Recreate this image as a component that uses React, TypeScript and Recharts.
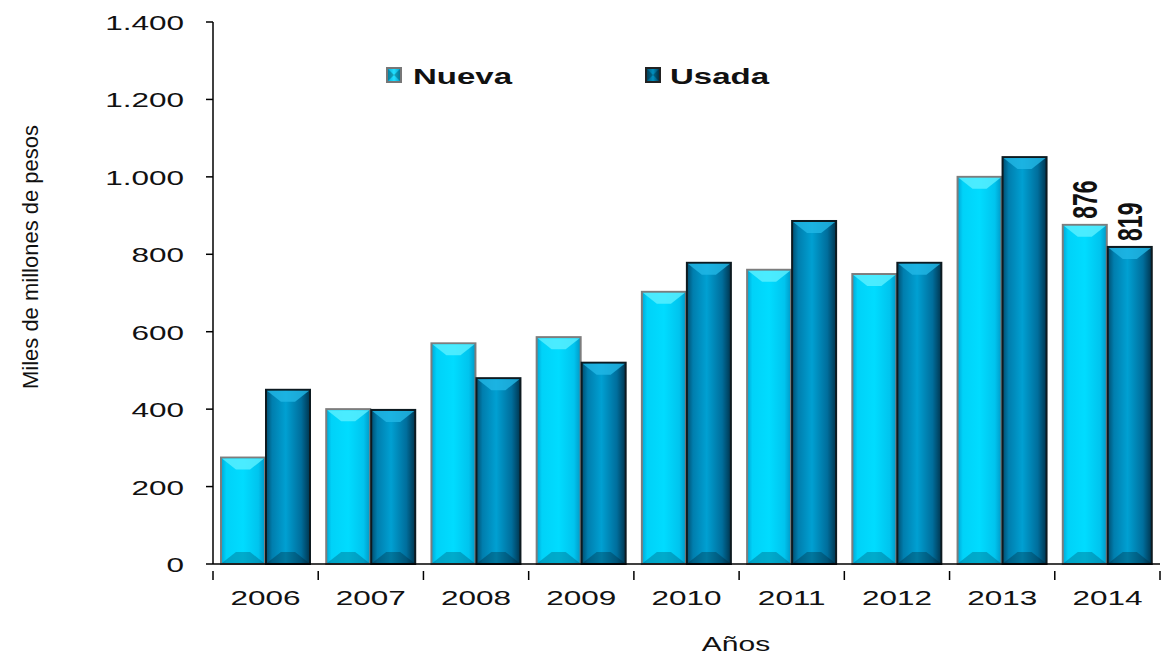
import React from "react";
import { BarChart, Bar, XAxis, YAxis, LabelList } from "recharts";

const years = ["2006", "2007", "2008", "2009", "2010", "2011", "2012", "2013", "2014"];
const nueva = [275, 400, 570, 586, 703, 760, 749, 1000, 876];
const usada = [450, 398, 480, 520, 778, 886, 778, 1051, 819];
const yTicks = [0, 200, 400, 600, 800, 1000, 1200, 1400];

const data = years.map((year, i) => ({ year, nueva: nueva[i], usada: usada[i] }));

const FONT = "'Liberation Sans', Arial, sans-serif";
const STRETCH = 1.5;

const fmt = (v: number) => v.toString().replace(/\B(?=(\d{3})+(?!\d))/g, ".");

// bar with a horizontal gradient and bevelled top / bottom caps
const BevelBar = (props: any) => {
  const { x, y, width, height, gradient, stroke, cap, base } = props;
  if (!height || height <= 0) return null;
  const b = Math.min(12, height / 2);
  return (
    <g>
      <rect x={x} y={y} width={width} height={height} fill={`url(#${gradient})`} stroke={stroke} strokeWidth={2} />
      <polygon
        points={`${x + 1},${y + 1} ${x + width - 1},${y + 1} ${x + width * 0.66},${y + b} ${x + width * 0.34},${y + b}`}
        fill={cap}
        opacity={0.8}
      />
      <polygon
        points={`${x + 1},${y + height - 1} ${x + width - 1},${y + height - 1} ${x + width * 0.66},${y + height - b} ${x + width * 0.34},${y + height - b}`}
        fill={base}
        opacity={0.3}
      />
    </g>
  );
};

const YTick = (props: any) => {
  const { x, y, payload } = props;
  return (
    <text
      transform={`translate(${x - 20},${y + 8}) scale(${STRETCH},1)`}
      textAnchor="end"
      fontFamily={FONT}
      fontSize={21}
      fill="#111"
    >
      {fmt(payload.value)}
    </text>
  );
};

const XTick = (props: any) => {
  const { x, y, payload, index, visibleTicksCount } = props;
  const half = payload.offset || 52.7;
  return (
    <g>
      <line x1={x - half} y1={y - 1} x2={x - half} y2={y + 8} stroke="#000" strokeWidth={1.5} />
      {index === visibleTicksCount - 1 && (
        <line x1={x + half} y1={y - 1} x2={x + half} y2={y + 8} stroke="#000" strokeWidth={1.5} />
      )}
      <text
        transform={`translate(${x},${y + 33}) scale(${STRETCH},1)`}
        textAnchor="middle"
        fontFamily={FONT}
        fontSize={21}
        fill="#111"
      >
        {payload.value}
      </text>
    </g>
  );
};

const ValueLabel = (props: any) => {
  const { x, y, width, value, index } = props;
  if (index !== years.length - 1) return null;
  return (
    <text
      transform={`translate(${x + width / 2},${y}) scale(${STRETCH},1) rotate(-90)`}
      x={6}
      y={8}
      textAnchor="start"
      fontFamily={FONT}
      fontWeight="bold"
      fontSize={23}
      fill="#111"
    >
      {value}
    </text>
  );
};

const LegendIcon = ({ x, grad, stroke }: { x: number; grad: string; stroke: string }) => (
  <g>
    <rect x={x} y={8} width={14} height={14} fill={`url(#${grad})`} stroke={stroke} strokeWidth={2} />
    <polygon points={`${x + 1},9 ${x + 7},15 ${x + 1},21`} fill="#000" opacity={0.25} />
    <polygon points={`${x + 13},9 ${x + 7},15 ${x + 13},21`} fill="#000" opacity={0.25} />
  </g>
);

// legend drawn as its own small svg over the plot
const LegendBox = () => (
  <svg width={420} height={34} style={{ position: "absolute", left: 380, top: 60 }}>
    <defs>
      <linearGradient id="lgNueva" x1="0" y1="0" x2="1" y2="0">
        <stop offset="0%" stopColor="#00a6d6" />
        <stop offset="50%" stopColor="#22e0ff" />
        <stop offset="100%" stopColor="#0098c6" />
      </linearGradient>
      <linearGradient id="lgUsada" x1="0" y1="0" x2="1" y2="0">
        <stop offset="0%" stopColor="#004e70" />
        <stop offset="50%" stopColor="#0090c0" />
        <stop offset="100%" stopColor="#00354f" />
      </linearGradient>
    </defs>
    <LegendIcon x={7} grad="lgNueva" stroke="#777" />
    <text transform={`translate(33,24) scale(${STRETCH},1)`} fontFamily={FONT} fontWeight="bold" fontSize={22} fill="#111">
      Nueva
    </text>
    <LegendIcon x={266} grad="lgUsada" stroke="#222" />
    <text transform={`translate(290,24) scale(${STRETCH},1)`} fontFamily={FONT} fontWeight="bold" fontSize={22} fill="#111">
      Usada
    </text>
  </svg>
);

export default function App() {
  return (
    <div style={{ position: "absolute", left: 0, top: 0, width: 1162, height: 657, background: "#fff" }}>
      <BarChart
        width={1162}
        height={657}
        data={data}
        margin={{ top: 22, right: 2, bottom: 0, left: 0 }}
        barCategoryGap={8}
        barGap={1}
      >
        <defs>
          <linearGradient id="gNueva" x1="0" y1="0" x2="1" y2="0">
            <stop offset="0%" stopColor="#00a6d6" />
            <stop offset="12%" stopColor="#00d2f8" />
            <stop offset="50%" stopColor="#00dcff" />
            <stop offset="85%" stopColor="#00c4ee" />
            <stop offset="100%" stopColor="#0098c6" />
          </linearGradient>
          <linearGradient id="gUsada" x1="0" y1="0" x2="1" y2="0">
            <stop offset="0%" stopColor="#004e70" />
            <stop offset="14%" stopColor="#007eae" />
            <stop offset="45%" stopColor="#00a0d2" />
            <stop offset="80%" stopColor="#006e9c" />
            <stop offset="100%" stopColor="#00354f" />
          </linearGradient>
        </defs>
        <XAxis
          dataKey="year"
          height={93}
          interval={0}
          tickLine={false}
          axisLine={{ stroke: "#000", strokeWidth: 1.5 }}
          tick={<XTick />}
          label={{
            content: () => (
              <text
                transform={`translate(736,651) scale(${STRETCH},1)`}
                textAnchor="middle"
                fontFamily={FONT}
                fontSize={20}
                fill="#111"
              >
                Años
              </text>
            ),
          }}
        />
        <YAxis
          width={213}
          domain={[0, 1400]}
          ticks={yTicks}
          interval={0}
          tickSize={7}
          tickLine={{ stroke: "#000", strokeWidth: 1.5 }}
          axisLine={{ stroke: "#000", strokeWidth: 1.5 }}
          tick={<YTick />}
          label={{
            content: () => (
              <text
                transform="translate(38,257) rotate(-90)"
                textAnchor="middle"
                fontFamily={FONT}
                fontSize={22}
                fill="#111"
              >
                Miles de millones de pesos
              </text>
            ),
          }}
        />
        <Bar
          dataKey="nueva"
          name="Nueva"
          isAnimationActive={false}
          shape={(p: any) => <BevelBar {...p} gradient="gNueva" stroke="#7d7d7d" cap="#5cf0ff" base="#003a55" />}
        >
          <LabelList dataKey="nueva" content={<ValueLabel />} />
        </Bar>
        <Bar
          dataKey="usada"
          name="Usada"
          isAnimationActive={false}
          shape={(p: any) => <BevelBar {...p} gradient="gUsada" stroke="#0d1a20" cap="#22b8e6" base="#001a28" />}
        >
          <LabelList dataKey="usada" content={<ValueLabel />} />
        </Bar>
      </BarChart>
      <LegendBox />
    </div>
  );
}
